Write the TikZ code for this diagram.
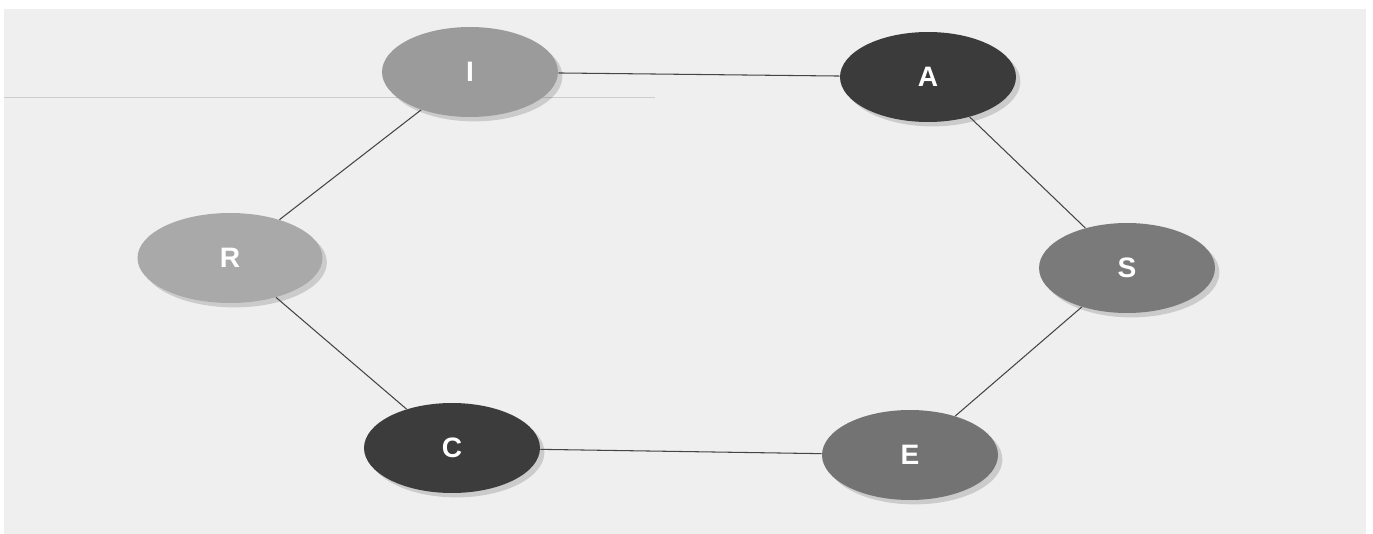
\documentclass[tikz,border=0pt]{standalone}
\usepackage{fontspec}
\setmainfont{Liberation Sans}
\usetikzlibrary{shapes.geometric,shadows}

\definecolor{paper}{HTML}{EFEFEF}
\definecolor{scanline}{HTML}{CDCDCD}
\definecolor{edgegray}{HTML}{454545}
\definecolor{toneI}{HTML}{9B9B9B}
\definecolor{toneA}{HTML}{3B3B3B}
\definecolor{toneS}{HTML}{7A7A7A}
\definecolor{toneE}{HTML}{737373}
\definecolor{toneC}{HTML}{3C3C3C}
\definecolor{toneR}{HTML}{A9A9A9}

\begin{document}
\begin{tikzpicture}[x=0.02cm,y=-0.02cm]
\tikzstyle{stage}=[ellipse,minimum width=3.52cm,minimum height=1.8cm,inner sep=0pt,
  text=white,font=\fontsize{16}{18}\selectfont\bfseries,
  drop shadow={shadow xshift=2.5pt,shadow yshift=-2.5pt,opacity=0.15,fill=black}]
\tikzstyle{link}=[edgegray,line width=0.6pt]
\useasboundingbox (0,0) rectangle (1373,534);
\fill [paper] (4,9) rectangle (1366,534);
\draw [scanline,line width=0.5pt] (4,97) -- (655,97);
% the six stages
\node (I) at (470,72) [stage,fill=toneI] {I};
\node (A) at (928,77) [stage,fill=toneA] {A};
\node (S) at (1127,268) [stage,fill=toneS] {S};
\node (E) at (910,455) [stage,fill=toneE] {E};
\node (C) at (452,448) [stage,fill=toneC] {C};
\node (R) at (230,258) [stage,fill=toneR,minimum width=3.7cm] {R};
% ring of links
\draw [link] (I) -- (A);
\draw [link] (A) -- (S);
\draw [link] (S) -- (E);
\draw [link] (E) -- (C);
\draw [link] (C) -- (R);
\draw [link] (R) -- (I);
\end{tikzpicture}
\end{document}
